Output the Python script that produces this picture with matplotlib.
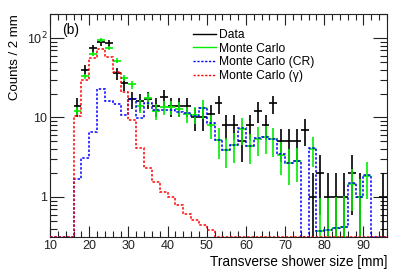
import numpy as np
import matplotlib
matplotlib.use("Agg")
import matplotlib.pyplot as plt
from matplotlib.ticker import FixedLocator, FixedFormatter, NullFormatter
from matplotlib.lines import Line2D

plt.rcParams['font.family'] = ['Liberation Sans', 'DejaVu Sans']

# ---- data (2 mm bins from 10 to 96 mm) ----
bin_edges = np.arange(10, 98, 2)

data_counts = [0, 0, 0, 14, 40, 74, 88, 86, 36, 27,
               17, 16, 17, 14, 18, 14, 14, 14, 10, 10,
               11, 15, 8, 8, 5, 8, 12, 8, 15, 5,
               5, 5, 7, 1, 2, 1, 1, 1, 2, 1,
               0, 0, 1]

mc_cr = [0, 0, 0, 1.67, 3.1, 6.6, 22.6, 16.2, 14.8, 10.7,
         17.0, 9.8, 15.0, 12.5, 12.4, 12.4, 11.8, 11.3, 10.4, 13.0,
         8.5, 5.2, 3.9, 4.5, 7.4, 4.4, 5.5, 5.6, 5.4, 3.5,
         2.7, 2.86, 0, 4.1, 0.37, 0.38, 0.41, 0.42, 1.5, 1.0,
         1.89, 0, 0]

mc_gamma = [0, 0, 0, 10.5, 29.5, 56.0, 73.0, 57.0, 37.0, 21.0,
            9.2, 4.1, 2.3, 1.56, 1.17, 1.0, 0.79, 0.62, 0.51, 0.45,
            0.39, 0, 0, 0, 0, 0, 0, 0, 0, 0,
            0, 0, 0, 0, 0, 0, 0, 0, 0, 0,
            0, 0, 0]

mc_total = [0, 0, 0, 12.2, 33.0, 63.0, 95.0, 75.0, 52.0, 31.5,
            26.0, 14.0, 17.5, 12.0, 13.5, 13.5, 12.8, 11.0, 10.8, 13.0,
            8.0, 5.2, 3.9, 4.5, 7.2, 4.4, 5.4, 5.6, 5.3, 3.4,
            2.7, 2.86, 0, 4.0, 0.37, 0.38, 0.41, 0.42, 1.46, 1.0,
            1.84, 0, 0]

mc_total_err = [0, 0, 0, 1.4, 2.5, 3.5, 5.0, 4.5, 4.0, 3.0,
                3.0, 2.5, 3.0, 2.6, 2.8, 2.8, 2.7, 2.6, 2.6, 3.5,
                2.6, 2.2, 1.6, 1.8, 2.7, 1.8, 2.1, 2.1, 2.1, 1.5,
                1.3, 1.3, 0, 1.6, 0.6, 0.6, 0.6, 0.6, 0.8, 0.7,
                0.9, 0, 0]

x_ticks = [10, 20, 30, 40, 50, 60, 70, 80, 90]
y_ticks = [1, 10, 100]
y_tick_labels = ['1', '10', '10$^{2}$']

# ---- figure ----
W, H = 399, 273
fig = plt.figure(figsize=(W / 100, H / 100), dpi=100)
ax = fig.add_axes([50 / W, 36 / H, (387 - 50) / W, (237 - 14) / H])
ax.set_yscale('log', nonpositive='clip')
ax.set_xlim(10, 96)
ax.set_ylim(0.314, 200)
ylo = ax.get_ylim()[0]

edges = np.asarray(bin_edges, float)
centers = 0.5 * (edges[:-1] + edges[1:])
half = 0.5 * np.diff(edges)

# data
d = np.asarray(data_counts, float)
m = d > 0
ax.errorbar(centers[m], d[m], xerr=half[m], yerr=np.sqrt(d[m]), fmt='none',
            ecolor='black', elinewidth=1.2, capsize=0, zorder=3)

# MC total
t = np.asarray(mc_total, float)
te = np.asarray(mc_total_err, float)
mt = t > 0
ax.errorbar(centers[mt], t[mt], xerr=half[mt], yerr=te[mt], fmt='none',
            ecolor='#00ee00', elinewidth=1.2, capsize=0, zorder=4)

dash = (0, (1.6, 1.2))
ax.stairs(np.clip(np.asarray(mc_cr, float), ylo, None), edges, baseline=None,
          color='#0000ff', lw=1.1, linestyle=dash, zorder=5)
ax.stairs(np.clip(np.asarray(mc_gamma, float), ylo, None), edges, baseline=None,
          color='#ff0000', lw=1.1, linestyle=dash, zorder=5)

# legend (proxy lines)
handles = [Line2D([], [], color='black', lw=1.0),
           Line2D([], [], color='#00ee00', lw=1.0),
           Line2D([], [], color='#0000ff', lw=1.0, linestyle=dash),
           Line2D([], [], color='#ff0000', lw=1.0, linestyle=dash)]
labels = ['Data', 'Monte Carlo', 'Monte Carlo (CR)', 'Monte Carlo (γ)']
ax.legend(handles, labels, loc='upper left', bbox_to_anchor=(0.41, 0.955),
          frameon=False, fontsize=8.7, handlelength=1.9, handletextpad=0.25,
          labelspacing=0.15, borderaxespad=0)

# axes styling
ax.xaxis.set_major_locator(FixedLocator(x_ticks))
ax.xaxis.set_minor_locator(FixedLocator(np.arange(10, 97, 2)))
ax.yaxis.set_major_locator(FixedLocator(y_ticks))
ax.yaxis.set_major_formatter(FixedFormatter(y_tick_labels))
minor_y = [v * k for v in (0.1, 1, 10, 100) for k in range(2, 10)]
ax.yaxis.set_minor_locator(FixedLocator(minor_y))
ax.yaxis.set_minor_formatter(NullFormatter())
ax.tick_params(which='both', direction='in', top=True, right=True,
               labelsize=9, width=0.8, colors='#222222', pad=2)
ax.tick_params(which='major', axis='x', length=8)
ax.tick_params(which='minor', axis='x', length=4)
ax.tick_params(which='major', axis='y', length=10)
ax.tick_params(which='minor', axis='y', length=5)
for s in ax.spines.values():
    s.set_linewidth(0.8)
    s.set_color('#222222')

ax.set_xlabel('Transverse shower size [mm]', fontsize=9.8, loc='right', labelpad=2)
ax.set_ylabel('Counts / 2 mm', fontsize=9.5, loc='top', labelpad=4)
ax.text(0.035, 0.93, '(b)', transform=ax.transAxes, fontsize=10, va='center')

fig.savefig('out.png', dpi=100)
